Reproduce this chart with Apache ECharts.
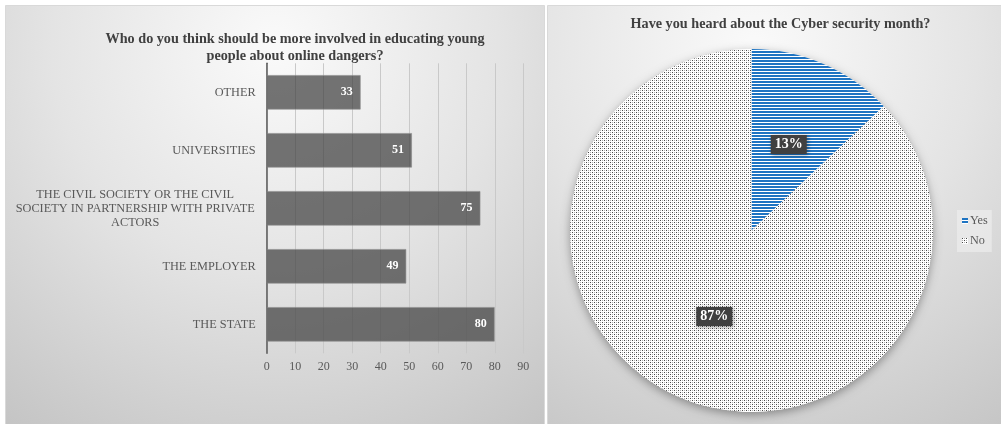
<!DOCTYPE html>
<html>
<head>
<meta charset="utf-8">
<script src="https://cdn.jsdelivr.net/npm/echarts@6/dist/echarts.min.js"></script>
<style>
html,body{margin:0;padding:0;background:#fff;}
#c{width:1001px;height:424px;}
</style>
</head>
<body>
<div id="c"></div>
<script>
// ---- data ----
const barTitle = 'Who do you think should be more involved in educating young\npeople about online dangers?';
const barCategories = ['OTHER', 'UNIVERSITIES', 'THE CIVIL SOCIETY OR THE CIVIL\nSOCIETY IN PARTNERSHIP WITH PRIVATE\nACTORS', 'THE EMPLOYER', 'THE STATE'];
const barValues = [33, 51, 75, 49, 80];
const xTicks = { min: 0, max: 90, interval: 10 };

const pieTitle = 'Have you heard about the Cyber security month?';
const pieNames = ['Yes', 'No'];
const pieValues = [13, 87];

const FONT = '"Liberation Serif", "Times New Roman", serif';

// ---- patterns ----
function stripePattern() {
  const c = document.createElement('canvas');
  c.width = 4; c.height = 3;
  const g = c.getContext('2d');
  g.fillStyle = '#ffffff'; g.fillRect(0, 0, 4, 3);
  g.fillStyle = '#1f74c2'; g.fillRect(0, 0, 4, 2);
  return c;
}
function dotPattern() {
  const c = document.createElement('canvas');
  c.width = 4; c.height = 4;
  const g = c.getContext('2d');
  g.fillStyle = '#ffffff'; g.fillRect(0, 0, 4, 4);
  g.fillStyle = '#4a4a4a'; g.fillRect(0, 0, 1, 1); g.fillRect(2, 2, 1, 1);
  g.fillStyle = '#b0b0b0'; g.fillRect(2, 0, 1, 1); g.fillRect(0, 2, 1, 1);
  return c;
}
const pieColors = [
  { image: stripePattern(), repeat: 'repeat' },
  { image: dotPattern(), repeat: 'repeat' }
];

const chart = echarts.init(document.getElementById('c'), null, { renderer: 'canvas' });

function panelBg(x, y, w, h, cx, cy) {
  return {
    type: 'rect', z: -10, silent: true,
    shape: { x: x, y: y, width: w, height: h },
    style: {
      fill: new echarts.graphic.RadialGradient(cx, cy, 1.15, [
        { offset: 0, color: '#fafafa' },
        { offset: 0.45, color: '#e4e4e4' },
        { offset: 1, color: '#c0c0c0' }
      ]),
      stroke: '#d9d9d9', lineWidth: 1
    }
  };
}

const option = {
  animation: false,
  graphic: [
    panelBg(5.5, 5.5, 539, 430, 0.5, 0.1),
    panelBg(547.5, 5.5, 460, 430, 0.45, 0.1)
  ],
  title: [
    {
      text: barTitle, left: 290, top: 26, textAlign: 'center',
      textStyle: { fontFamily: FONT, fontSize: 14.2, fontWeight: 'bold', color: '#404040', lineHeight: 17 }
    },
    {
      text: pieTitle, left: 775.5, top: 12.5, textAlign: 'center',
      textStyle: { fontFamily: FONT, fontSize: 14.2, fontWeight: 'bold', color: '#404040' }
    }
  ],
  legend: {
    data: pieNames,
    orient: 'vertical', left: 957, top: 210,
    icon: 'rect', itemWidth: 6, itemHeight: 6, itemGap: 8,
    padding: [5, 4, 5, 5],
    backgroundColor: 'rgba(240,240,240,0.6)',
    textStyle: { fontFamily: FONT, fontSize: 12.2, color: '#595959', padding: [0, 0, 0, -3] }
  },
  grid: { left: 266.7, right: 477.7, top: 63.3, bottom: 70.7, containLabel: false },
  xAxis: {
    type: 'value', min: xTicks.min, max: xTicks.max, interval: xTicks.interval,
    axisLine: { show: false }, axisTick: { show: false },
    axisLabel: { fontFamily: FONT, fontSize: 12, color: '#595959', margin: 8 },
    splitLine: { show: true, lineStyle: { color: '#c9c9c9', width: 1 } }
  },
  yAxis: {
    type: 'category', data: barCategories, inverse: true,
    axisLine: { show: true, lineStyle: { color: '#595959', width: 1.5 } },
    axisTick: { show: false },
    axisLabel: {
      fontFamily: FONT, fontSize: 12.3, color: '#595959', margin: 11, lineHeight: 14,
      formatter: function (v) {
        return v.indexOf('\n') >= 0 ? v.split('\n').map(function (l) { return '{c|' + l + '}'; }).join('\n') : v;
      },
      rich: { c: { width: 241, align: 'center', fontFamily: FONT, fontSize: 12.3, color: '#595959', lineHeight: 14 } }
    }
  },
  series: [
    {
      type: 'bar', data: barValues, barCategoryGap: '40%',
      itemStyle: { color: 'rgba(64,64,64,0.72)', borderColor: 'rgba(140,140,140,0.6)', borderWidth: 1 },
      label: { show: true, position: 'insideRight', distance: 8, fontFamily: FONT, fontSize: 12, fontWeight: 'bold', color: '#ffffff' },
      z: 3
    },
    {
      type: 'pie', silent: true, center: [751.5, 230.5], radius: 181.5, startAngle: 90,
      data: pieValues.map(function (v, i) { return { value: v, name: 'bg' + i }; }),
      label: { show: false }, labelLine: { show: false },
      itemStyle: { color: '#ffffff', shadowBlur: 10, shadowColor: 'rgba(0,0,0,0.35)', shadowOffsetY: 3 },
      z: 1
    },
    {
      type: 'pie', center: [751.5, 230.5], radius: 181.5, startAngle: 90,
      data: pieNames.map(function (n, i) { return { name: n, value: pieValues[i], itemStyle: { color: pieColors[i] } }; }),
      itemStyle: { borderWidth: 0 },
      label: {
        show: true, position: 'inside', formatter: '{d}%',
        fontFamily: FONT, fontSize: 14, fontWeight: 'bold', color: '#ffffff',
        backgroundColor: '#404040', padding: [3, 4, 2, 4],
        shadowBlur: 4, shadowColor: 'rgba(0,0,0,0.4)', shadowOffsetX: 1, shadowOffsetY: 1
      },
      labelLine: { show: false },
      emphasis: { disabled: true },
      z: 2
    }
  ]
};
chart.setOption(option);
</script>
</body>
</html>
